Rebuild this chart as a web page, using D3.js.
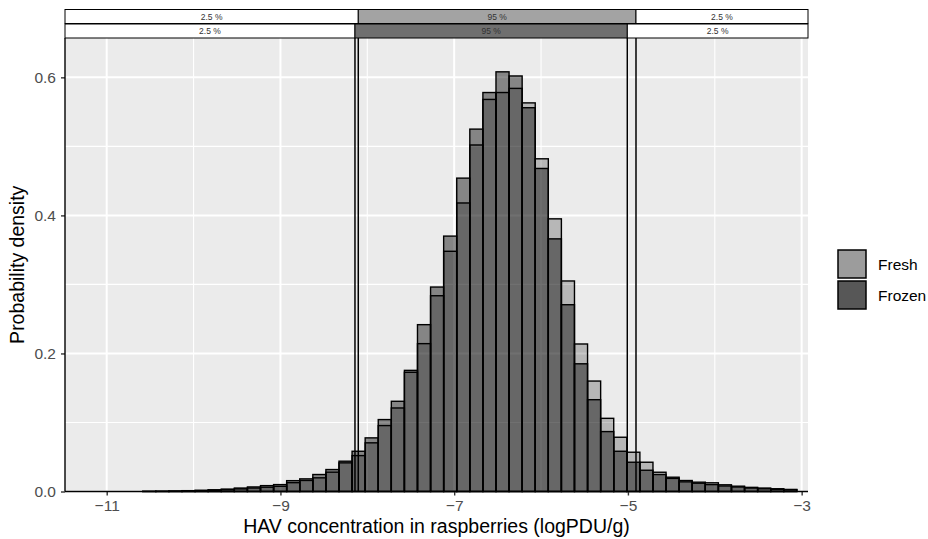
<!DOCTYPE html>
<html>
<head>
<meta charset="utf-8">
<script src="https://cdn.jsdelivr.net/npm/d3@7"></script>
<style>
  body { margin: 0; background: #fff; }
  svg { font-family: "Liberation Sans", Arial, sans-serif; }
</style>
</head>
<body>
<svg id="chart" width="928" height="539"></svg>
<script>
// histogram bins: first left edge and bin width (logPDU/g)
const binStart = -10.585;
const binWidth = 0.1506;

// density per bin
const fresh = [
  0.0002, 0.0003, 0.0005, 0.0008, 0.0012, 0.0018, 0.0026, 0.0038, 0.0050, 0.0062,
  0.0075, 0.0128, 0.0160, 0.0198, 0.0280, 0.0415, 0.0520, 0.0705, 0.0955, 0.1210,
  0.1727, 0.2142, 0.2836, 0.348, 0.418, 0.502, 0.568, 0.578, 0.584, 0.563,
  0.482, 0.395, 0.305, 0.2137, 0.160, 0.106, 0.0786, 0.0569, 0.0424, 0.0279,
  0.0207, 0.0159, 0.0135, 0.0126, 0.0097, 0.0077, 0.0060, 0.0050, 0.0040, 0.0030
];
const frozen = [
  0.0003, 0.0005, 0.0008, 0.0012, 0.0018, 0.0025, 0.0035, 0.0050, 0.0066, 0.0085,
  0.0100, 0.0157, 0.0183, 0.0246, 0.0318, 0.0439, 0.0583, 0.0777, 0.1042, 0.1307,
  0.1755, 0.2417, 0.2962, 0.370, 0.454, 0.525, 0.578, 0.608, 0.602, 0.556,
  0.468, 0.366, 0.2706, 0.185, 0.133, 0.0868, 0.0583, 0.0424, 0.0308, 0.0246,
  0.0190, 0.0140, 0.0120, 0.0100, 0.0080, 0.0065, 0.0050, 0.0040, 0.0030, 0.0025
];

// 2.5 % and 97.5 % quantiles
const groups = ['Fresh', 'Frozen'];
const q025 = [-8.104, -8.142];
const q975 = [-4.907, -5.007];
const stripFill = ['#a3a3a3', '#6f6f6f'];
const legendFill = ['#9c9c9c', '#575757'];

const xTicks = [-11, -9, -7, -5, -3];
const xMinor = [-10, -8, -6, -4];
const yTicks = [0, 0.2, 0.4, 0.6];
const yMinor = [0.1, 0.3, 0.5];

const svg = d3.select('#chart');
const panel = { left: 65, right: 808, top: 38, bottom: 491.5 };

const x = d3.scaleLinear().domain([-11.48, -2.927]).range([panel.left, panel.right]);
const y = d3.scaleLinear().domain([0, 0.657]).range([panel.bottom, panel.top]);

// panel background + grid
svg.append('rect')
  .attr('x', panel.left).attr('y', panel.top)
  .attr('width', panel.right - panel.left).attr('height', panel.bottom - panel.top)
  .attr('fill', '#ebebeb');

const grid = svg.append('g').attr('stroke', '#fff');
grid.selectAll('.vmin').data(xMinor).join('line')
  .attr('x1', d => x(d)).attr('x2', d => x(d))
  .attr('y1', panel.top).attr('y2', panel.bottom).attr('stroke-width', 1.1);
grid.selectAll('.hmin').data(yMinor).join('line')
  .attr('x1', panel.left).attr('x2', panel.right)
  .attr('y1', d => y(d)).attr('y2', d => y(d)).attr('stroke-width', 1.1);
grid.selectAll('.vmaj').data(xTicks).join('line')
  .attr('x1', d => x(d)).attr('x2', d => x(d))
  .attr('y1', panel.top).attr('y2', panel.bottom).attr('stroke-width', 2);
grid.selectAll('.hmaj').data(yTicks).join('line')
  .attr('x1', panel.left).attr('x2', panel.right)
  .attr('y1', d => y(d)).attr('y2', d => y(d)).attr('stroke-width', 2);

// bars, black fill with alpha so the overlap darkens
function drawBars(values, alpha) {
  svg.append('g')
    .selectAll('rect')
    .data(values)
    .join('rect')
    .attr('x', (d, i) => x(binStart + i * binWidth))
    .attr('width', x(binStart + binWidth) - x(binStart))
    .attr('y', d => y(d))
    .attr('height', d => y(0) - y(d))
    .attr('fill', `rgba(0,0,0,${alpha})`)
    .attr('stroke', '#000')
    .attr('stroke-width', 1.4);
}
drawBars(fresh, 0.22);
drawBars(frozen, 0.435);

// quantile lines
svg.append('g')
  .selectAll('line')
  .data(q025.concat(q975))
  .join('line')
  .attr('x1', d => x(d)).attr('x2', d => x(d))
  .attr('y1', panel.top).attr('y2', panel.bottom)
  .attr('stroke', '#000').attr('stroke-width', 1.5);

// axes
const xAxis = svg.append('g')
  .attr('transform', `translate(0,${panel.bottom})`)
  .call(d3.axisBottom(x).tickValues(xTicks).tickSize(4).tickPadding(4)
    .tickFormat(d => d3.format('d')(d).replace('-', '\u2212')));
xAxis.selectAll('.tick line').attr('stroke', '#333').attr('stroke-width', 1.4);
xAxis.selectAll('.tick text').attr('fill', '#4d4d4d').attr('font-size', 15.5);

const yAxis = svg.append('g')
  .attr('transform', `translate(${panel.left},0)`)
  .call(d3.axisLeft(y).tickValues(yTicks).tickSize(4).tickPadding(5).tickFormat(d3.format('.1f')));
yAxis.selectAll('.tick line').attr('stroke', '#333').attr('stroke-width', 1.4);
yAxis.selectAll('.tick text').attr('fill', '#4d4d4d').attr('font-size', 15.5);
svg.selectAll('.domain').remove();
xAxis.append('line').attr('x1', panel.left).attr('x2', panel.right)
  .attr('stroke', '#000').attr('stroke-width', 1.4);
yAxis.append('line').attr('y1', panel.top).attr('y2', panel.bottom)
  .attr('stroke', '#000').attr('stroke-width', 1.4);

// quantile strips above the panel
const rowTop = [9.5, 24];
const rowH = 14;
groups.forEach((g, i) => {
  const segs = [
    { a: x.domain()[0], b: q025[i], fill: '#fff', label: '2.5 %' },
    { a: q025[i], b: q975[i], fill: stripFill[i], label: '95 %' },
    { a: q975[i], b: x.domain()[1], fill: '#fff', label: '2.5 %' }
  ];
  const row = svg.append('g');
  row.selectAll('rect').data(segs).join('rect')
    .attr('x', d => x(d.a)).attr('width', d => x(d.b) - x(d.a))
    .attr('y', rowTop[i]).attr('height', rowH)
    .attr('fill', d => d.fill).attr('stroke', '#000').attr('stroke-width', 1);
  row.selectAll('text').data(segs).join('text')
    .attr('x', d => (x(d.a) + x(d.b)) / 2)
    .attr('y', rowTop[i] + rowH / 2 + 3)
    .attr('text-anchor', 'middle')
    .attr('font-size', 8.5)
    .attr('fill', '#333')
    .text(d => d.label);
});

// axis titles
svg.append('text')
  .attr('x', (panel.left + panel.right) / 2).attr('y', 533)
  .attr('text-anchor', 'middle').attr('font-size', 19.5).attr('fill', '#000')
  .text('HAV concentration in raspberries (logPDU/g)');
svg.append('text')
  .attr('transform', `translate(24,${(panel.top + panel.bottom) / 2}) rotate(-90)`)
  .attr('text-anchor', 'middle').attr('font-size', 19.5).attr('fill', '#000')
  .text('Probability density');

// legend
const legend = svg.append('g').attr('transform', 'translate(838,250)');
groups.forEach((g, i) => {
  legend.append('rect')
    .attr('x', 0).attr('y', i * 31).attr('width', 28).attr('height', 28)
    .attr('fill', legendFill[i]).attr('stroke', '#000').attr('stroke-width', 1.5);
  legend.append('text')
    .attr('x', 40).attr('y', i * 31 + 19.5)
    .attr('font-size', 15.5).attr('fill', '#000')
    .text(g);
});
</script>
</body>
</html>
